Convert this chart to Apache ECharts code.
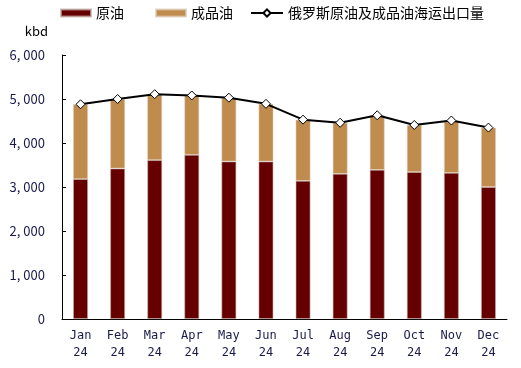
<!DOCTYPE html>
<html><head><meta charset="utf-8">
<script src="https://cdn.jsdelivr.net/npm/echarts@6/dist/echarts.min.js"></script>
<style>html,body{margin:0;padding:0;background:#fff}#c{width:521px;height:368px}</style>
</head><body><div id="c"></div>
<script>
const months = ['Jan\n24','Feb\n24','Mar\n24','Apr\n24','May\n24','Jun\n24','Jul\n24','Aug\n24','Sep\n24','Oct\n24','Nov\n24','Dec\n24'];
const crude = [3180,3420,3610,3730,3580,3580,3140,3300,3390,3340,3320,3000];
const products = [1700,1580,1500,1350,1450,1310,1390,1160,1240,1070,1190,1350];
const total = [4880,5000,5110,5080,5030,4890,4530,4460,4630,4410,4510,4350];
const seriesNames = ['原油','成品油','俄罗斯原油及成品油海运出口量'];

const chart = echarts.init(document.getElementById('c'));
const txt = {color:'#000', fontSize:14, fontFamily:'Noto Sans CJK SC'};
chart.setOption({
  animation:false,
  textStyle:{fontFamily:'Noto Sans CJK SC'},
  legend:[
    {data:[seriesNames[0]], left:55, top:1, itemWidth:30, itemHeight:7, icon:'rect', textStyle:txt},
    {data:[seriesNames[1]], left:150, top:1, itemWidth:30, itemHeight:7, icon:'rect', textStyle:txt},
    {data:[seriesNames[2]], left:245, top:1, itemWidth:32, itemHeight:9, textStyle:txt}
  ],
  grid:{left:62, right:14, top:55, bottom:49},
  xAxis:{
    type:'category', data:months,
    axisLine:{lineStyle:{color:'#000', width:1}},
    axisTick:{inside:true, length:4, lineStyle:{color:'#000'}},
    axisLabel:{color:'#1a1a4a', fontSize:12, fontFamily:'DejaVu Sans Mono', lineHeight:17, margin:8}
  },
  yAxis:{
    type:'value', min:0, max:6000, interval:1000,
    name:'kbd', nameLocation:'end', nameGap:17,
    nameTextStyle:{color:'#000', fontSize:13, align:'right', padding:[0,14,0,0]},
    splitLine:{show:false},
    axisLine:{show:true, lineStyle:{color:'#000', width:1}},
    axisTick:{show:true, inside:true, length:4, lineStyle:{color:'#000'}},
    axisLabel:{color:'#1a1a4a', fontSize:13, margin:17,
      formatter:v=>v===0?'0':(Math.floor(v/1000)+', '+String(v%1000).padStart(3,'0'))}
  },
  series:[
    {name:seriesNames[0], type:'bar', stack:'a', data:crude, barWidth:'40%',
     itemStyle:{color:'#660000', borderColor:'rgba(190,170,160,0.7)', borderWidth:0.8}},
    {name:seriesNames[1], type:'bar', stack:'a', data:products, barWidth:'40%',
     itemStyle:{color:'#BF8C4D', borderColor:'rgba(220,200,180,0.7)', borderWidth:0.8}},
    {name:seriesNames[2], type:'line', data:total, symbol:'diamond', symbolSize:9,
     lineStyle:{color:'#000', width:2}, itemStyle:{color:'#fff', borderColor:'#000', borderWidth:1}}
  ]
});
</script></body></html>
